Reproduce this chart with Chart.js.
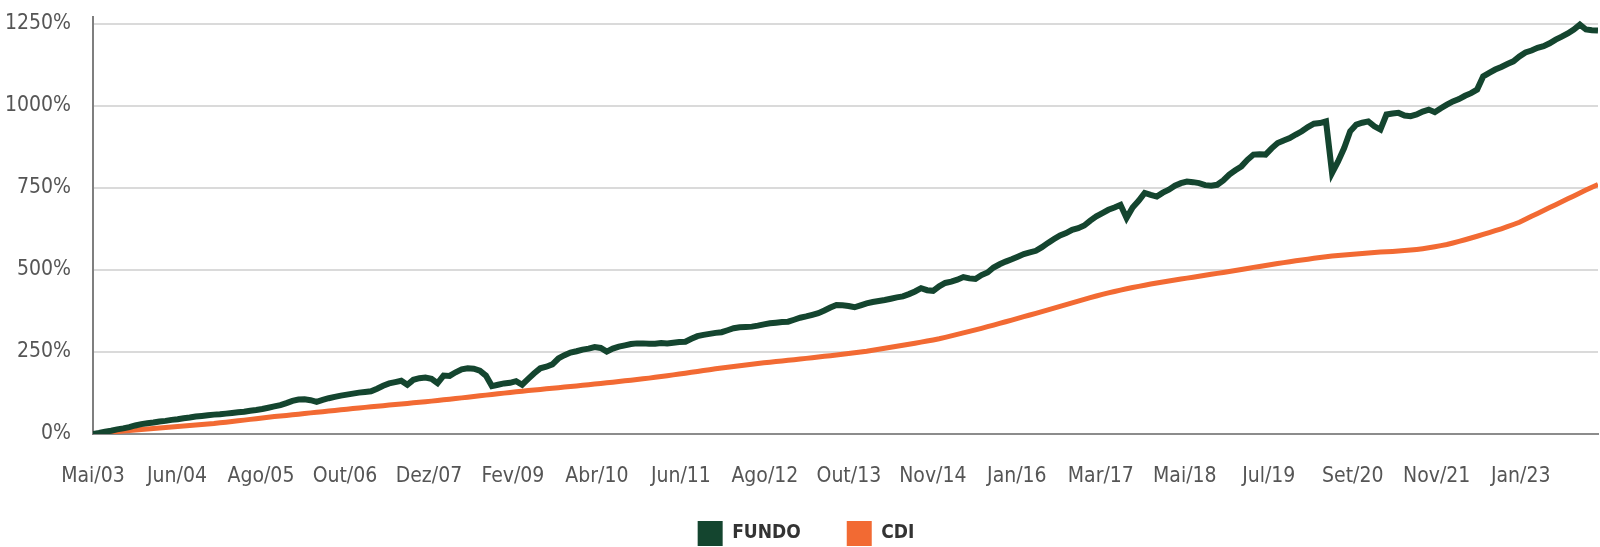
<!DOCTYPE html>
<html>
<head>
<meta charset="utf-8">
<script src="https://cdn.jsdelivr.net/npm/chart.js@4/dist/chart.umd.min.js"></script>
<style>
  html, body { margin: 0; padding: 0; background: #fff; overflow: hidden; }
  #wrap { width: 1600px; height: 547px; position: relative; }
</style>
</head>
<body>
<div id="wrap"><canvas id="grafico"></canvas></div>
<script>
// rótulos do eixo x (um a cada passo)
const tickLabels = ['Mai/03', 'Jun/04', 'Ago/05', 'Out/06', 'Dez/07', 'Fev/09', 'Abr/10', 'Jun/11', 'Ago/12',
  'Out/13', 'Nov/14', 'Jan/16', 'Mar/17', 'Mai/18', 'Jul/19', 'Set/20', 'Nov/21', 'Jan/23'];
const tickStep = 13.895; // meses entre rótulos
const yTicks = [0, 250, 500, 750, 1000, 1250];

const seriesNames = ['FUNDO', 'CDI'];

// retorno acumulado mensal (%), a partir de Mai/03
const fundo = [
  0, 3, 7, 10, 14, 17, 21, 26, 30, 33,
  35, 38, 40, 43, 45, 48, 50, 53, 55, 57,
  59, 60, 62, 64, 66, 68, 71, 73, 76, 80,
  84, 88, 94, 101, 105, 106, 103, 98, 104, 109,
  113, 117, 120, 123, 126, 128, 130, 138, 147, 154,
  158, 162, 150, 165, 170, 172, 168, 155, 178, 177,
  188, 197, 200, 199, 193, 178, 146, 150, 154, 156,
  161, 150, 168, 185, 200, 205, 212, 230, 240, 248,
  252, 257, 260, 265, 262, 251, 260, 266, 270, 274,
  276, 276, 275, 275, 277, 276, 278, 280, 281, 290,
  298, 302, 305, 308, 310, 316, 322, 325, 326, 327,
  330, 334, 337, 339, 341, 342, 348, 354, 358, 363,
  368, 376, 385, 393, 392, 390, 386, 392, 398, 402,
  405, 408, 412, 416, 419, 426, 434, 444, 438, 436,
  450, 460, 464, 470, 478, 474, 472, 484, 492, 507,
  517, 525, 532, 540, 548, 553, 558, 569, 582, 594,
  605, 612, 622, 627, 635, 650, 663, 673, 683, 690,
  698, 658, 690, 710, 734, 728, 723, 735, 744, 756,
  764, 769, 767, 764, 758, 756, 759, 772, 790, 803,
  815, 835, 851, 852, 851, 870, 886, 894, 901, 912,
  922, 935, 945, 947, 952, 795, 830, 871, 922, 942,
  948, 952, 937, 927, 973, 976, 978, 970, 968, 973,
  982, 988, 980, 992, 1003, 1013, 1020, 1030, 1038, 1049,
  1089, 1100, 1110, 1118, 1127, 1135, 1150, 1162, 1168, 1176,
  1181, 1190, 1201, 1210, 1220, 1232, 1247, 1232, 1230, 1229
];

const cdi = [
  0, 1.9, 3.7, 5.7, 7.4, 9.0, 10.7, 12.1, 13.6, 15.2,
  16.7, 18.2, 19.7, 21.2, 22.7, 24.2, 25.7, 27.3, 28.9, 30.5,
  32.0, 34.0, 36.0, 38.1, 40.2, 42.3, 44.5, 46.7, 48.9, 51.0,
  53.0, 54.8, 56.4, 58.4, 60.4, 62.3, 64.3, 66.2, 68.1, 70.0,
  71.9, 73.8, 75.6, 77.5, 79.3, 81.1, 82.8, 84.6, 86.3, 88.0,
  89.7, 91.4, 93.2, 94.9, 96.6, 98.4, 100.1, 102.0, 104.0, 106.0,
  108.0, 110.0, 112.1, 114.2, 116.3, 118.4, 120.4, 122.4, 124.5, 126.5,
  128.4, 130.3, 132.2, 134.0, 135.8, 137.6, 139.4, 141.2, 143.0, 144.7,
  146.4, 148.2, 150.1, 152.0, 153.9, 155.8, 157.8, 159.8, 161.9, 164.0,
  166.0, 168.1, 170.2, 172.6, 175.0, 177.5, 180.0, 182.6, 185.2, 187.8,
  190.5, 193.2, 195.9, 198.6, 201.2, 203.5, 205.8, 208.0, 210.2, 212.4,
  214.6, 216.7, 218.6, 220.5, 222.4, 224.3, 226.2, 228.2, 230.3, 232.3,
  234.4, 236.5, 238.6, 240.7, 242.9, 245.2, 247.5, 249.9, 252.3, 255.2,
  258.0, 261.0, 264.0, 267.1, 270.2, 273.3, 276.5, 279.8, 283.1, 286.5,
  290.0, 294.3, 298.7, 303.2, 307.8, 312.4, 317.1, 321.9, 326.8, 331.8,
  336.8, 341.9, 347.0, 352.1, 357.2, 362.4, 367.6, 372.8, 378.1, 383.4,
  388.7, 394.0, 399.3, 404.6, 410.0, 415.2, 420.2, 425.0, 429.6, 434.0,
  438.2, 442.2, 446.0, 449.6, 453.1, 456.6, 460.0, 463.0, 466.0, 468.9,
  471.8, 474.7, 477.6, 480.5, 483.4, 486.3, 489.2, 492.1, 495.0, 498.1,
  501.2, 504.3, 507.4, 510.4, 513.4, 516.3, 519.2, 522.0, 524.7, 527.4,
  530.0, 532.5, 535.0, 537.4, 539.7, 541.8, 543.7, 545.4, 547.0, 548.5,
  550.0, 551.5, 553.0, 554.0, 555.0, 556.1, 557.3, 558.7, 560.3, 562.2,
  564.5, 567.2, 570.3, 573.6, 577.0, 581.6, 586.5, 591.6, 596.9, 602.3,
  607.8, 613.4, 619.1, 625.0, 631.3, 638.0, 645.0, 653.9, 662.8, 671.7,
  680.6, 689.5, 698.4, 707.3, 716.2, 725.1, 734.0, 742.9, 751.8, 760.0
];

const monthIndex = fundo.map((_, i) => i);

Chart.defaults.font.family = "'DejaVu Sans Condensed', 'Liberation Sans Narrow', sans-serif";

// os rótulos dos eixos são recortados à caixa da escala; alarga a área de recorte
const soltaRotulos = {
  id: 'soltaRotulos',
  afterLayout(chart) {
    chart.scales.y.left = 0;
    chart.scales.x.bottom = chart.height;
  }
};

const ctx = document.getElementById('grafico').getContext('2d');

new Chart(ctx, {
  type: 'line',
  data: {
    labels: monthIndex,
    datasets: [{
      label: seriesNames[0],
      data: fundo,
      borderColor: '#14452f',
      backgroundColor: '#14452f',
      borderWidth: 6,
      pointRadius: 0,
      tension: 0
    }, {
      label: seriesNames[1],
      data: cdi,
      borderColor: '#f26a33',
      backgroundColor: '#f26a33',
      borderWidth: 5,
      pointRadius: 0,
      tension: 0
    }]
  },
  plugins: [soltaRotulos],
  options: {
    responsive: true,
    maintainAspectRatio: false,
    animation: false,
    layout: { padding: { top: 17, left: 14, right: 2, bottom: -9 } },
    plugins: {
      tooltip: { enabled: false },
      legend: {
        position: 'bottom',
        labels: {
          boxWidth: 25,
          boxHeight: 25,
          padding: 46,
          color: '#333',
          font: { size: 19, weight: 'bold' },
          generateLabels: chart =>
            Chart.defaults.plugins.legend.labels.generateLabels(chart).map(l => ({ ...l, lineWidth: 0 }))
        }
      }
    },
    scales: {
      x: {
        type: 'linear',
        min: 0,
        max: 249,
        afterFit: s => { s.height = 41; },
        grid: { display: false, drawTicks: false },
        border: { display: true, color: '#8c8c8c', width: 2 },
        ticks: {
          stepSize: tickStep,
          includeBounds: false,
          autoSkip: false,
          maxRotation: 0,
          padding: 30,
          color: '#555',
          font: { size: 21 },
          callback: (v, i) => tickLabels[i]
        }
      },
      y: {
        min: 0,
        max: 1270,
        afterFit: s => { s.width = 79; s.paddingTop = 0; },
        afterBuildTicks: s => { s.ticks = yTicks.map(v => ({ value: v })); },
        grid: { color: '#dadada', lineWidth: 2, drawTicks: false },
        border: { display: true, color: '#7f7f7f', width: 2 },
        ticks: {
          padding: 22,
          color: '#555',
          font: { size: 21 },
          callback: v => v + '%'
        }
      }
    }
  }
});
</script>
</body>
</html>
